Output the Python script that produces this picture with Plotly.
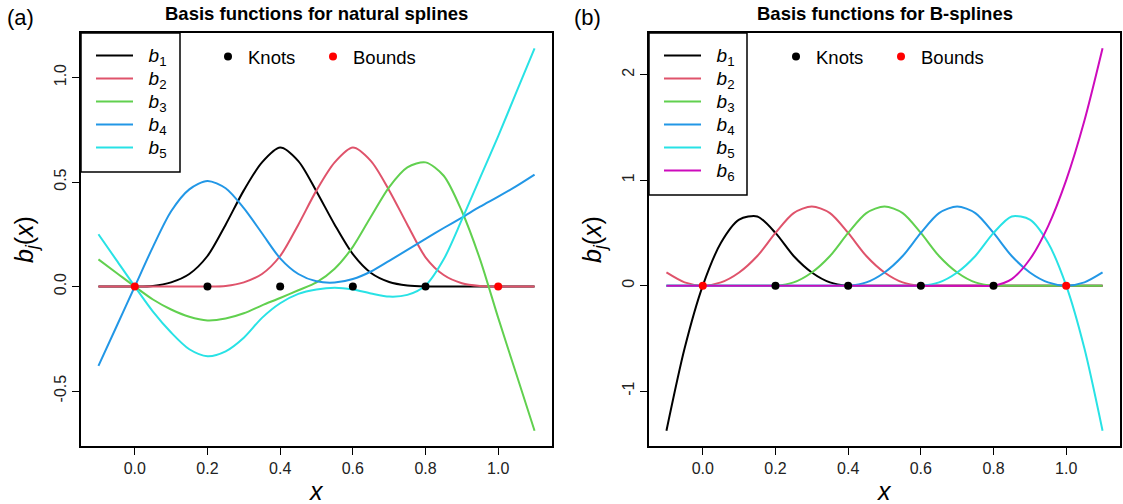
import plotly.graph_objects as go

# ---------------- data ----------------
x_grid = [-0.1, -0.05, 0.0, 0.05, 0.1, 0.15, 0.2, 0.25, 0.3, 0.35, 0.4, 0.45, 0.5,
          0.55, 0.6, 0.65, 0.7, 0.75, 0.8, 0.85, 0.9, 0.95, 1.0, 1.05, 1.1]

# natural spline basis (panel a)
ns_b1 = [0, 0, 0, 0.003, 0.02, 0.06, 0.146, 0.296, 0.46, 0.594, 0.665, 0.60, 0.455,
         0.296, 0.155, 0.065, 0.022, 0.005, 0, 0, 0, 0, 0, 0, 0]
ns_b2 = [0, 0, 0, 0, 0, 0, 0, 0.003, 0.02, 0.06, 0.146, 0.296, 0.46,
         0.594, 0.665, 0.60, 0.46, 0.296, 0.14, 0.055, 0.016, 0.003, 0, 0, 0]
ns_b3 = [0.13, 0.065, 0, -0.062, -0.11, -0.145, -0.162, -0.153, -0.128, -0.09, -0.055, -0.018, 0.02,
         0.085, 0.19, 0.335, 0.476, 0.57, 0.594, 0.53, 0.36, 0.13, -0.15, -0.42, -0.69]
ns_b4 = [-0.38, -0.19, 0, 0.19, 0.36, 0.465, 0.505, 0.47, 0.375, 0.255, 0.135, 0.06, 0.025,
         0.019, 0.036, 0.072, 0.123, 0.175, 0.228, 0.28, 0.33, 0.382, 0.43, 0.48, 0.535]
ns_b5 = [0.25, 0.125, 0, -0.12, -0.22, -0.30, -0.333, -0.31, -0.245, -0.15, -0.08, -0.035, -0.014,
         -0.006, -0.014, -0.033, -0.048, -0.04, 0.005, 0.13, 0.32, 0.52, 0.72, 0.93, 1.14]

# B-spline basis (panel b)
bs_b1 = [-1.375, -0.594, 0, 0.406, 0.625, 0.656, 0.5, 0.281, 0.125, 0.031, 0, 0, 0,
         0, 0, 0, 0, 0, 0, 0, 0, 0, 0, 0, 0]
bs_b2 = [0.125, 0.031, 0, 0.031, 0.125, 0.281, 0.5, 0.688, 0.75, 0.688, 0.5, 0.281, 0.125,
         0.031, 0, 0, 0, 0, 0, 0, 0, 0, 0, 0, 0]
bs_b3 = [0, 0, 0, 0, 0, 0, 0, 0.031, 0.125, 0.281, 0.5, 0.688, 0.75,
         0.688, 0.5, 0.281, 0.125, 0.031, 0, 0, 0, 0, 0, 0, 0]
bs_b4 = [0, 0, 0, 0, 0, 0, 0, 0, 0, 0, 0, 0.031, 0.125,
         0.281, 0.5, 0.688, 0.75, 0.688, 0.5, 0.281, 0.125, 0.031, 0, 0.031, 0.125]
bs_b5 = [0, 0, 0, 0, 0, 0, 0, 0, 0, 0, 0, 0, 0,
         0, 0, 0.031, 0.125, 0.281, 0.5, 0.656, 0.625, 0.406, 0, -0.594, -1.375]
bs_b6 = [0, 0, 0, 0, 0, 0, 0, 0, 0, 0, 0, 0, 0,
         0, 0, 0, 0, 0, 0, 0.0625, 0.25, 0.5625, 1.0, 1.5625, 2.25]

knot_x = [0.2, 0.4, 0.6, 0.8]
knot_y = [0, 0, 0, 0]
bound_x = [0.0, 1.0]
bound_y = [0, 0]

x_ticks = [0.0, 0.2, 0.4, 0.6, 0.8, 1.0]
x_ticklabels = ["0.0", "0.2", "0.4", "0.6", "0.8", "1.0"]
ya_ticks = [-0.5, 0.0, 0.5, 1.0]
ya_ticklabels = ["-0.5", "0.0", "0.5", "1.0"]
yb_ticks = [-1, 0, 1, 2]
yb_ticklabels = ["-1", "0", "1", "2"]

series_colors = ["#000000", "#DF536B", "#61D04F", "#2297E6", "#28E2E5", "#CD0BBC"]
ns_series = [ns_b1, ns_b2, ns_b3, ns_b4, ns_b5]
bs_series = [bs_b1, bs_b2, bs_b3, bs_b4, bs_b5, bs_b6]

# ---------------- figure ----------------
W, H = 1123, 504
FONT = "Liberation Sans, Arial, sans-serif"


def px(v):
    return v / W


def py(v):
    return 1 - v / H


def label(i):
    return '<span style="font-size:19px">\u00a0\u00a0<i>b</i><sub>%d</sub></span>' % i


fig = go.Figure()

for i, ys in enumerate(ns_series):
    fig.add_trace(go.Scatter(x=x_grid, y=ys, mode="lines", name=label(i + 1),
                             line=dict(color=series_colors[i], width=2, shape="spline", smoothing=0.8),
                             xaxis="x", yaxis="y", legend="legend"))
fig.add_trace(go.Scatter(x=knot_x, y=knot_y, mode="markers", name="Knots",
                         marker=dict(color="black", size=8), xaxis="x", yaxis="y", legend="legend2"))
fig.add_trace(go.Scatter(x=bound_x, y=bound_y, mode="markers", name="Bounds",
                         marker=dict(color="red", size=8), xaxis="x", yaxis="y", legend="legend2"))

for i, ys in enumerate(bs_series):
    fig.add_trace(go.Scatter(x=x_grid, y=ys, mode="lines", name=label(i + 1),
                             line=dict(color=series_colors[i], width=2, shape="spline", smoothing=0.8),
                             xaxis="x2", yaxis="y2", legend="legend3"))
fig.add_trace(go.Scatter(x=knot_x, y=knot_y, mode="markers", name="Knots",
                         marker=dict(color="black", size=8), xaxis="x2", yaxis="y2", legend="legend4"))
fig.add_trace(go.Scatter(x=bound_x, y=bound_y, mode="markers", name="Bounds",
                         marker=dict(color="red", size=8), xaxis="x2", yaxis="y2", legend="legend4"))

axis_common = dict(showline=True, linecolor="black", linewidth=1.5, mirror=True,
                   ticks="outside", ticklen=7, tickwidth=1.2, tickcolor="black",
                   showgrid=False, zeroline=False,
                   tickfont=dict(family=FONT, size=16, color="#222"))

ydom = [py(446), py(33)]
series_legend = dict(xanchor="left", yanchor="top", bgcolor="rgba(0,0,0,0)", borderwidth=0,
                     itemwidth=37, tracegroupgap=0,
                     font=dict(family=FONT, size=15.4, color="black"))
point_legend = dict(orientation="h", xanchor="left", yanchor="middle",
                    bgcolor="rgba(0,0,0,0)", borderwidth=0, entrywidth=60,
                    font=dict(family=FONT, size=18.5, color="black"))

fig.update_layout(
    width=W, height=H, autosize=False,
    margin=dict(l=0, r=0, t=0, b=0),
    paper_bgcolor="white", plot_bgcolor="white",
    font=dict(family=FONT, color="black"),
    xaxis=dict(domain=[px(81), px(552)], anchor="y", range=[-0.148, 1.148],
               tickvals=x_ticks, ticktext=x_ticklabels, **axis_common),
    yaxis=dict(domain=ydom, anchor="x", range=[-0.763, 1.213],
               tickvals=ya_ticks, ticktext=ya_ticklabels, tickangle=-90, **axis_common),
    xaxis2=dict(domain=[px(649), px(1120)], anchor="y2", range=[-0.148, 1.148],
                tickvals=x_ticks, ticktext=x_ticklabels, **axis_common),
    yaxis2=dict(domain=ydom, anchor="x2", range=[-1.52, 2.395],
                tickvals=yb_ticks, ticktext=yb_ticklabels, tickangle=-90, **axis_common),
    legend=dict(x=px(91), y=py(39), **series_legend),
    legend2=dict(x=px(208), y=py(57), **point_legend),
    legend3=dict(x=px(659), y=py(39), **series_legend),
    legend4=dict(x=px(776), y=py(57), **point_legend),
)

# legend frames (white boxes with black border, as in base-R legends)
for x0, x1, y1 in ((81, 180, 172), (649, 747, 195)):
    fig.add_shape(type="rect", xref="paper", yref="paper",
                  x0=px(x0), x1=px(x1), y0=py(y1), y1=py(33),
                  line=dict(color="black", width=1.5), fillcolor="white", layer="above")

annots = [
    dict(text="<b>Basis functions for natural splines</b>", x=px(316.5), y=py(13), size=18.5),
    dict(text="<b>Basis functions for B-splines</b>", x=px(884.5), y=py(13), size=18.5),
    dict(text="(a)", x=px(20), y=py(18), size=22),
    dict(text="(b)", x=px(587), y=py(18), size=22),
    dict(text="<i>x</i>", x=px(316.5), y=py(491), size=25),
    dict(text="<i>x</i>", x=px(884.5), y=py(491), size=25),
]
for a in annots:
    fig.add_annotation(text=a["text"], x=a["x"], y=a["y"], xref="paper", yref="paper",
                       xanchor="center", yanchor="middle", showarrow=False,
                       font=dict(family=FONT, size=a["size"], color="black"))
for xp in (26, 594):
    fig.add_annotation(text="<i>b</i><sub><i>j</i></sub>(<i>x</i>)", x=px(xp), y=py(240),
                       xref="paper", yref="paper", xanchor="center", yanchor="middle",
                       showarrow=False, textangle=-90,
                       font=dict(family=FONT, size=25, color="black"))

fig.write_html("out.html")
